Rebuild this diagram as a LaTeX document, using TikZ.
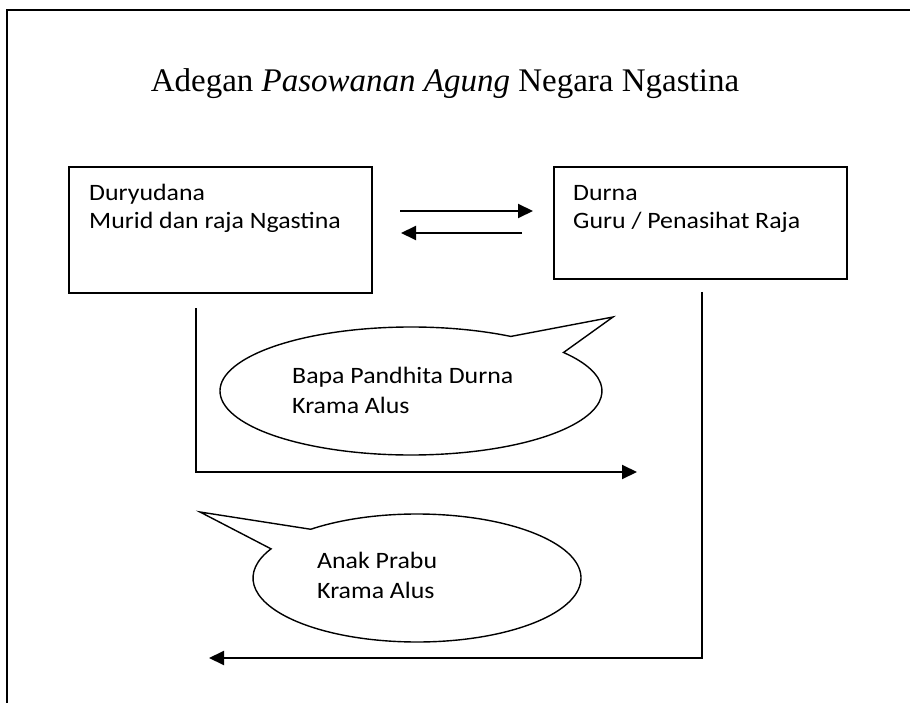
\documentclass[tikz,border=0pt]{standalone}
\usepackage{fontspec}
\setmainfont{Liberation Serif}
\newfontfamily\calib[FakeStretch=1.1]{Carlito}
\usetikzlibrary{arrows.meta,calc}
\begin{document}
\begin{tikzpicture}[x=1pt,y=-1pt,
  boxframe/.style={draw,line width=2pt,inner sep=0pt,anchor=north west},
  boxtext/.style={anchor=base west,inner sep=0pt,align=left,font=\calib\fontsize{23.5}{27.5}\selectfont},
  bubbletext/.style={anchor=base west,inner sep=0pt,align=left,font=\calib\fontsize{23.5}{30}\selectfont},
  flow/.style={line width=2pt,-{Triangle[length=15pt,width=14pt]}},
  bubble/.style={draw,line width=1.4pt,fill=white,line join=miter}]
\useasboundingbox (0,0) rectangle (910,703);
\fill[white] (0,0) rectangle (910,703);
% outer frame
\draw[line width=2.5pt] (910,10) -- (7,10) -- (7,703);
% title
\node[anchor=base,inner sep=0pt,font=\fontsize{33}{40}\selectfont] (title) at (445,92)
  {Adegan \textit{Pasowanan Agung} Negara Ngastina};
% boxes
\node[boxframe,minimum width=303pt,minimum height=126pt] (dury) at (68,166) {};
\node[boxframe,minimum width=293pt,minimum height=112pt] (durna) at (553,166) {};
\node[boxtext] (durytxt) at (89,228.5) {Duryudana\\Murid dan raja Ngastina};
\node[boxtext] (durnatxt) at (573,228.5) {Durna\\Guru / Penasihat Raja};
% arrows between boxes
\coordinate (a1s) at (400,211); \coordinate (a1e) at (533,211);
\coordinate (a2s) at (522,233); \coordinate (a2e) at (401,233);
\draw[flow] (a1s) -- (a1e);
\draw[flow] (a2s) -- (a2e);
% left L connector
\coordinate (l1) at (196,308); \coordinate (l2) at (196,472); \coordinate (l3) at (637,472);
\draw[flow] (l1) -- (l2) -- (l3);
% right L connector
\coordinate (r1) at (702,292); \coordinate (r2) at (702,658); \coordinate (r3) at (209,658);
\draw[flow] (r1) -- (r2) -- (r3);
% callout 1
\coordinate (c1) at (411,391);
\coordinate (t1) at (613,317);
\draw[bubble] ($(c1)+(-58.5:191 and 64)$) arc[start angle=-58.5,end angle=-397,x radius=191,y radius=64] -- (t1) -- cycle;
\node[bubbletext] (b1txt) at (292,413) {Bapa Pandhita Durna\\Krama Alus};
% callout 2
\coordinate (c2) at (417,578);
\coordinate (t2) at (200,512);
\draw[bubble] ($(c2)+(-130.4:164 and 64)$) arc[start angle=-130.4,end angle=207.1,x radius=164,y radius=64] -- (t2) -- cycle;
\node[bubbletext] (b2txt) at (317,598) {Anak Prabu\\Krama Alus};
\end{tikzpicture}
\end{document}
